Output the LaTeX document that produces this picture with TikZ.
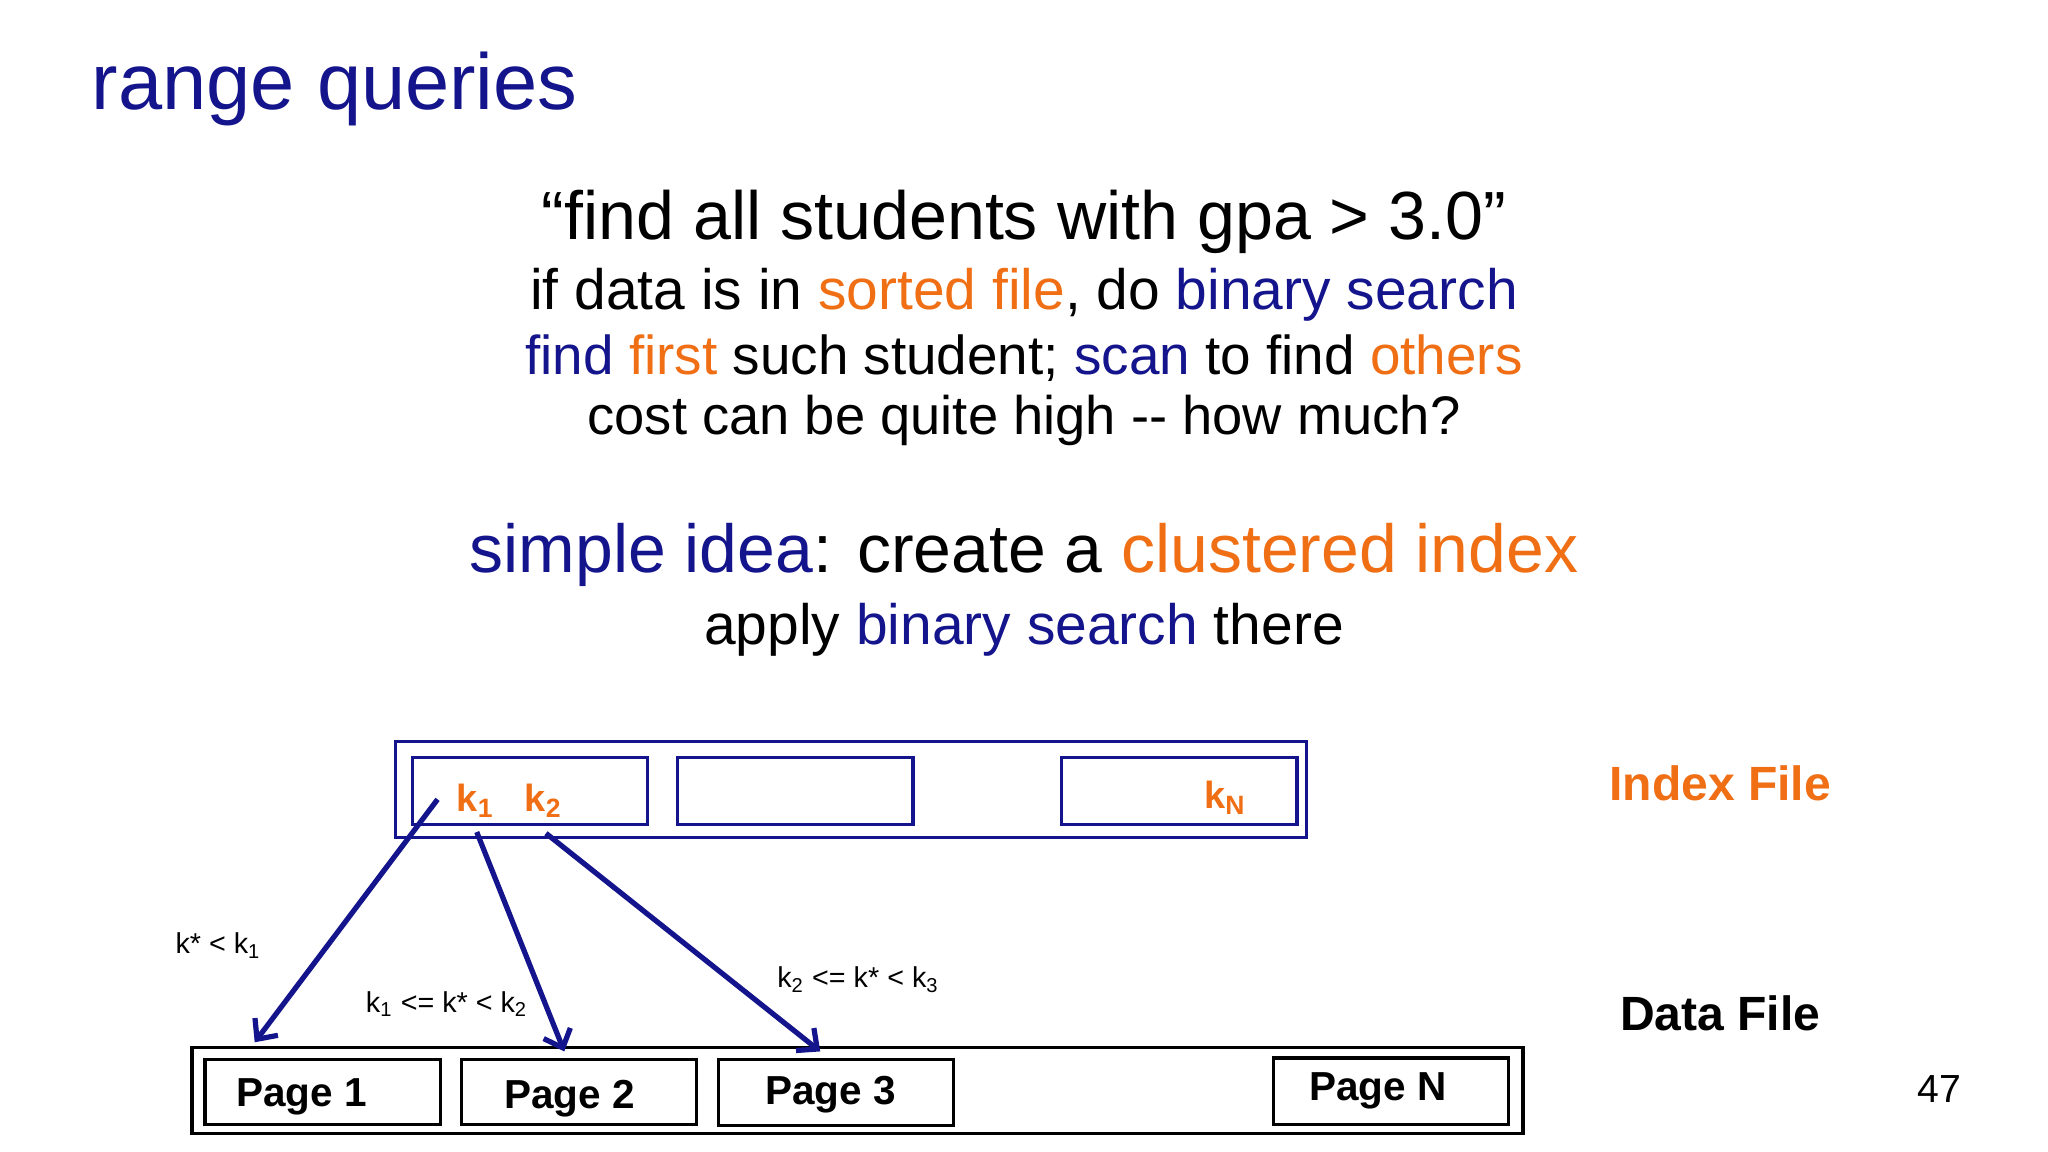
\documentclass[tikz,border=0pt]{standalone}
\usepackage{fontspec}
\usetikzlibrary{arrows.meta}
\setmainfont{Liberation Sans}
\definecolor{dblue}{RGB}{20,20,140}
\definecolor{org}{RGB}{240,110,20}
\begin{document}
\begin{tikzpicture}[x=0.5pt,y=-0.5pt,
  box/.style={draw,line width=1.2pt},
  ibox/.style={box,draw=dblue},
  arr/.style={draw=dblue,line width=2pt,-{Straight Barb[length=6pt,width=11pt]}},
  key/.style={text=org,font=\fontsize{14.5}{16}\selectfont\bfseries},
  pg/.style={font=\fontsize{15.5}{17}\selectfont\bfseries},
  lbl/.style={font=\fontsize{11}{13}\selectfont}]
\useasboundingbox[fill=white] (0,0) rectangle (1568,882);
\node[anchor=west,text=dblue,font=\fontsize{30.4}{33}\selectfont,inner sep=0pt] (title) at (70,68) {range queries};
\node[font=\fontsize{26.1}{29}\selectfont] (q) at (784,170) {“find all students with gpa > 3.0”};
\node[font=\fontsize{21.8}{25}\selectfont] (l2) at (784,226) {if data is in \textcolor{org}{sorted file}, do \textcolor{dblue}{binary search}};
\node[font=\fontsize{21}{25}\selectfont] (l3) at (784,274) {\textcolor{dblue}{find} \textcolor{org}{first} such student; \textcolor{dblue}{scan} to find \textcolor{org}{others}};
\node[font=\fontsize{20.8}{25}\selectfont] (l4) at (784,322) {cost can be quite high -{}- how much?};
\node[font=\fontsize{26}{29}\selectfont] (l5) at (784,425) {\textcolor{dblue}{simple idea}: create a \textcolor{org}{clustered index}};
\node[font=\fontsize{21.8}{25}\selectfont] (l6) at (784,482) {apply \textcolor{dblue}{binary search} there};
% index file
\draw[ibox] (303,568) rectangle (1000,641);
\draw[ibox] (316,580) rectangle (496,631);
\draw[ibox] (519,580) rectangle (699,631);
\draw[ibox] (813,580) rectangle (993,631);
\node[key] (k1) at (364,613) {k$_\mathbf{1}$};
\node[key] (k2) at (416,613) {k$_\mathbf{2}$};
\node[key] (kN) at (938,611) {k\textsubscript{N}};
\node[key,font=\fontsize{18.4}{20}\selectfont\bfseries] (if) at (1317,600) {Index File};
% data file
\draw[box] (147,802) rectangle (1166,868);
\draw[box] (157,811) rectangle (337,861);
\draw[box] (353,811) rectangle (533,861);
\draw[box] (550,811) rectangle (730,862);
\draw[box] (975,810) rectangle (1155,861);
\node[pg] (p1) at (231,840) {Page 1};
\node[pg] (p2) at (436,841) {Page 2};
\node[pg] (p3) at (636,838) {Page 3};
\node[pg] (pn) at (1055,835) {Page N};
\node[pg,font=\fontsize{18.4}{20}\selectfont\bfseries] (df) at (1317,776) {Data File};
\node[font=\fontsize{15}{17}\selectfont] (num) at (1485,834) {47};
% arrows
\coordinate (a1) at (335,612); \coordinate (b1) at (195,798);
\coordinate (a2) at (365,637); \coordinate (b2) at (432,805);
\coordinate (a3) at (418,638); \coordinate (b3) at (628,805);
\draw[arr] (a1) -- (b1);
\draw[arr] (a2) -- (b2);
\draw[arr] (a3) -- (b3);
\node[lbl] (t1) at (167,724) {k* < k\textsubscript{1}};
\node[lbl] (t2) at (342,769) {k\textsubscript{1} <= k* < k\textsubscript{2}};
\node[lbl] (t3) at (657,750) {k\textsubscript{2} <= k* < k\textsubscript{3}};
\end{tikzpicture}
\end{document}
